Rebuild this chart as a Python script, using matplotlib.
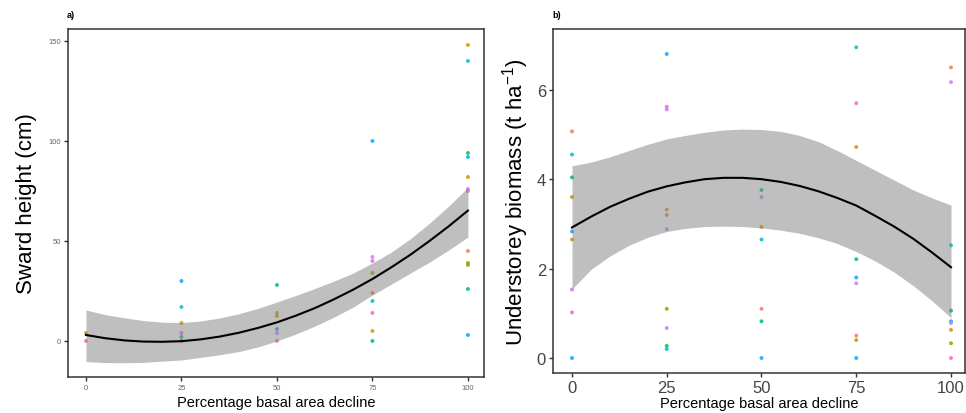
import matplotlib
matplotlib.use("Agg")
import matplotlib.pyplot as plt

plt.rcParams['font.family'] = ['Liberation Sans', 'DejaVu Sans']
plt.rcParams['mathtext.fontset'] = 'custom'
plt.rcParams['mathtext.rm'] = 'Liberation Sans'
plt.rcParams['mathtext.it'] = 'Liberation Sans:italic'

# site colours (ggplot hue palette, 8 sites)
palette = ['#F8766D', '#CD9600', '#7CAE00', '#00BE67',
           '#00BFC4', '#00A9FF', '#C77CFF', '#FF61CC']

# ---- panel a: sward height ----
a_x = [0, 0,
       25, 25, 25, 25, 25, 25, 25,
       50, 50, 50, 50, 50, 50,
       75, 75, 75, 75, 75, 75, 75, 75, 75,
       100, 100, 100, 100, 100, 100, 100, 100, 100, 100, 100, 100]
a_y = [4, 0,
       30, 17, 9, 4, 2, 0, 0,
       28, 14, 12.5, 6, 4, 0,
       100, 42, 40, 34, 24, 20, 14, 5, 0,
       148, 140, 94, 92, 82, 76, 75, 45, 39, 38, 26, 3]
a_site = [1, 7,
          5, 4, 1, 6, 3, 7, 0,
          3, 1, 1, 5, 6, 7,
          5, 6, 7, 2, 0, 4, 7, 1, 3,
          1, 4, 3, 5, 1, 6, 7, 0, 2, 2, 3, 5]

# fitted curve and confidence band
fit_x = [0, 5, 10, 15, 20, 25, 30, 35, 40, 45, 50,
         55, 60, 65, 70, 75, 80, 85, 90, 95, 100]
a_fit = [3.0, 1.4, 0.3, -0.3, -0.4, -0.1, 0.8, 2.2, 4.1, 6.5, 9.3,
         12.7, 16.5, 20.9, 25.7, 31.0, 36.9, 43.2, 50.1, 57.4, 65.2]
a_upper = [15.5, 13.2, 11.6, 10.2, 9.4, 9.2, 10.0, 11.5, 13.6, 16.3, 19.5,
           22.8, 26.3, 30.0, 34.0, 39.0, 44.5, 51.2, 59.0, 67.5, 76.8]
a_lower = [-10.3, -10.8, -10.9, -10.7, -10.1, -9.5, -8.2, -6.9, -5.3, -3.0, 0.0,
           3.5, 7.5, 12.0, 17.0, 23.0, 28.5, 34.0, 39.5, 45.5, 52.0]

# ---- panel b: understorey biomass ----
b_x = [0] * 9 + [25] * 10 + [50] * 7 + [75] * 9 + [100] * 9
b_y = [5.07, 4.55, 4.04, 3.6, 2.83, 2.65, 1.53, 1.02, 0,
       6.8, 5.62, 5.56, 3.32, 3.2, 2.88, 1.1, 0.67, 0.27, 0.2,
       3.76, 3.6, 2.93, 2.65, 1.1, 0.82, 0,
       6.95, 5.7, 4.72, 2.21, 1.8, 1.67, 0.5, 0.4, 0,
       6.5, 6.17, 2.52, 1.06, 0.82, 0.78, 0.63, 0.33, 0]
b_site = [0, 4, 3, 1, 5, 1, 6, 7, 5,
          5, 7, 6, 1, 0, 6, 2, 6, 3, 4,
          3, 6, 1, 4, 0, 3, 5,
          4, 7, 1, 3, 5, 6, 0, 1, 5,
          0, 6, 4, 3, 5, 6, 1, 2, 7]

b_fit = [2.92, 3.16, 3.38, 3.56, 3.72, 3.84, 3.93, 4.00, 4.03, 4.03, 4.00,
         3.94, 3.85, 3.73, 3.58, 3.41, 3.18, 2.94, 2.67, 2.36, 2.03]
b_upper = [4.30, 4.38, 4.50, 4.64, 4.78, 4.90, 4.98, 5.05, 5.10, 5.12, 5.11,
           5.07, 4.98, 4.84, 4.64, 4.42, 4.20, 3.98, 3.76, 3.58, 3.42]
b_lower = [1.54, 1.98, 2.28, 2.52, 2.70, 2.83, 2.90, 2.94, 2.95, 2.94, 2.91,
           2.86, 2.79, 2.69, 2.56, 2.38, 2.17, 1.92, 1.62, 1.28, 0.90]


def draw_panel(ax, xs, ys, sites, fit, lower, upper):
    ax.scatter(xs, ys, c=[palette[s] for s in sites], s=8, linewidths=0,
               alpha=0.85, zorder=1)
    ax.fill_between(fit_x, lower, upper, color='#808080', alpha=0.5,
                    linewidth=0, zorder=2)
    ax.plot(fit_x, fit, color='black', lw=1.5, zorder=3)
    for sp in ax.spines.values():
        sp.set_color('#333333')
        sp.set_linewidth(1.1)
    ax.tick_params(direction='out', length=3, width=1, color='#333333')
    ax.set_xticks([0, 25, 50, 75, 100])


fig = plt.figure(figsize=(9.66, 4.14), dpi=100)

ax1 = fig.add_axes([0.0704, 0.087, 0.4306, 0.8406])
draw_panel(ax1, a_x, a_y, a_site, a_fit, a_lower, a_upper)
ax1.set_xlim(-4.7, 104.2)
ax1.set_ylim(-18, 156)
ax1.set_yticks([0, 50, 100, 150])
ax1.tick_params(labelsize=5.5, labelcolor='#666666', pad=2)
ax1.set_ylabel('Sward height (cm)', fontsize=16, labelpad=8)
ax1.set_xlabel('Percentage basal area decline', fontsize=10.5, labelpad=3)
fig.text(0.069, 0.962, 'a)', fontsize=6.5, fontweight='bold', ha='left', va='center')

ax2 = fig.add_axes([0.5725, 0.0966, 0.4265, 0.831])
draw_panel(ax2, b_x, b_y, b_site, b_fit, b_lower, b_upper)
ax2.set_xlim(-5.0, 103.7)
ax2.set_ylim(-0.336, 7.36)
ax2.set_yticks([0, 2, 4, 6])
ax2.tick_params(labelsize=12, labelcolor='#444444', pad=2)
ax2.set_ylabel('Understorey biomass (t ha$^{-1}$)', fontsize=16, labelpad=4)
ax2.set_xlabel('Percentage basal area decline', fontsize=10.5, labelpad=1)
fig.text(0.572, 0.962, 'b)', fontsize=6.5, fontweight='bold', ha='left', va='center')

fig.savefig('out.png', dpi=100)
